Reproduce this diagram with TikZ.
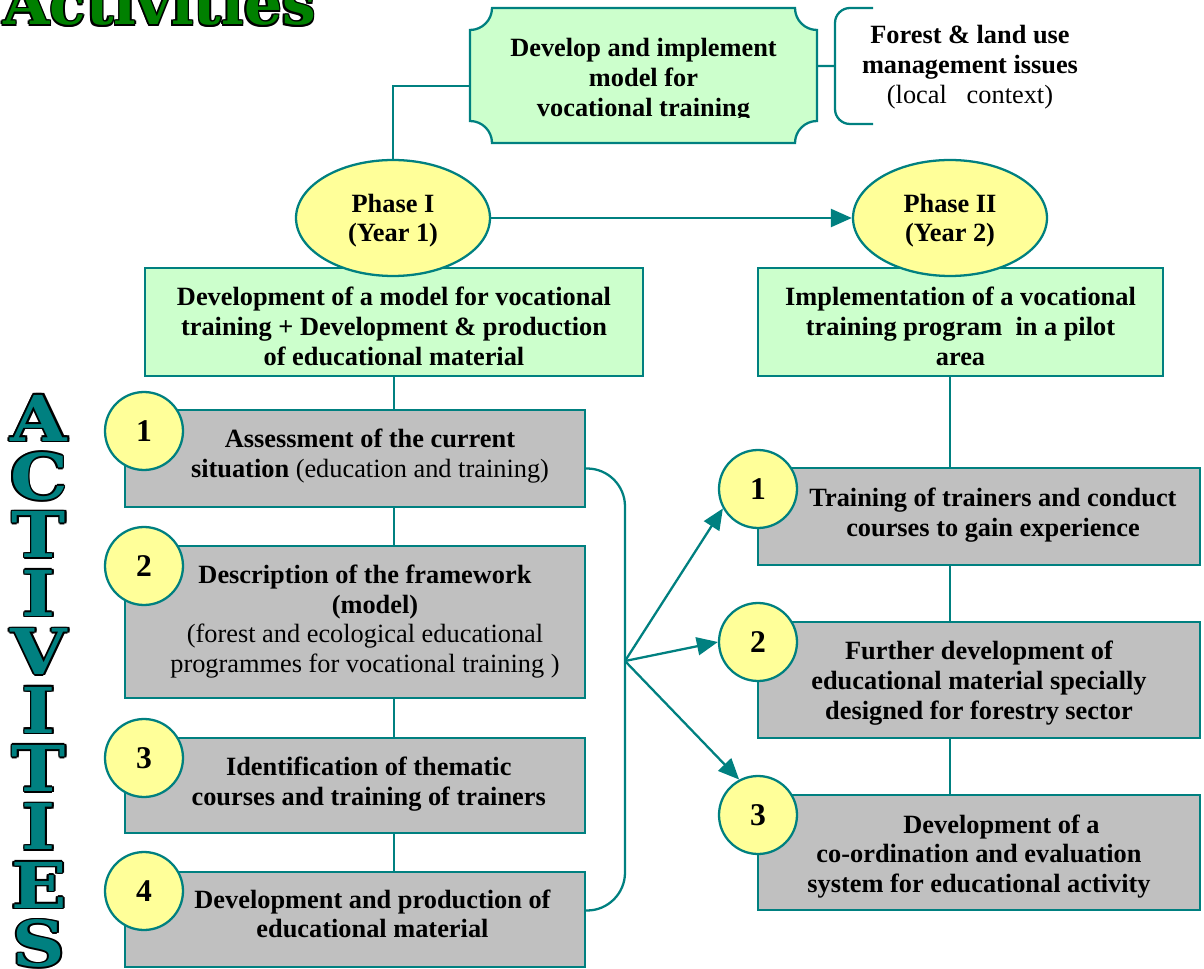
\documentclass[tikz,border=0pt]{standalone}
\usepackage{fontspec}
\setmainfont{Liberation Serif}
\newfontfamily\blockfont{DejaVu Serif}
\usetikzlibrary{shapes.geometric,arrows.meta}

\definecolor{linkteal}{RGB}{0,128,128}
\definecolor{mint}{RGB}{204,255,204}
\definecolor{paleyellow}{RGB}{255,255,153}
\definecolor{boxgray}{RGB}{192,192,192}
\definecolor{titlegreen}{RGB}{0,128,0}

\newcommand{\txt}{\fontsize{15}{17}\selectfont}
% letters with a black rim
\newcommand{\ringed}[2]{%
  \leavevmode
  \rlap{\hspace*{-0.9pt}\textcolor{black}{#2}}%
  \rlap{\hspace*{0.9pt}\textcolor{black}{#2}}%
  \rlap{\raisebox{0.9pt}{\textcolor{black}{#2}}}%
  \rlap{\raisebox{-0.9pt}{\textcolor{black}{#2}}}%
  \rlap{\hspace*{-0.65pt}\raisebox{0.65pt}{\textcolor{black}{#2}}}%
  \rlap{\hspace*{0.65pt}\raisebox{0.65pt}{\textcolor{black}{#2}}}%
  \rlap{\hspace*{-0.65pt}\raisebox{-0.65pt}{\textcolor{black}{#2}}}%
  \rlap{\hspace*{0.65pt}\raisebox{-0.65pt}{\textcolor{black}{#2}}}%
  \textcolor{#1}{#2}}
% text block pushed right by half of #1 and raised by #2
\newcommand{\offtext}[3]{\hspace*{#1}\raisebox{#2}[\height][\depth]{\begin{tabular}{@{}c@{}}#3\end{tabular}}}

\begin{document}
\begin{tikzpicture}[x=0.02cm, y=-0.02cm,
  link/.style={draw=linkteal, line width=1.3pt},
  arr/.style={link, -{Triangle[length=0.42cm,width=0.36cm]}},
  greenbox/.style={rectangle, draw=linkteal, line width=1.3pt, fill=mint,
    align=center, inner sep=0pt, font=\txt\bfseries},
  graybox/.style={greenbox, fill=boxgray},
  phase/.style={ellipse, draw=linkteal, line width=1.3pt, fill=paleyellow,
    minimum width=3.88cm, minimum height=2.32cm, align=center, inner sep=0pt,
    font=\txt\bfseries},
  num/.style={circle, draw=linkteal, line width=1.3pt, fill=paleyellow,
    minimum size=1.56cm, inner sep=0pt, font=\fontsize{18}{18}\selectfont\bfseries},
  vletter/.style={inner sep=0pt, font=\blockfont\bfseries\fontsize{36}{36}\selectfont}]

  \useasboundingbox (0,0) rectangle (1204,969);

  % title, cut by the page edge
  \node[anchor=base west, inner sep=0pt,
    font=\blockfont\bfseries\fontsize{34}{34}\selectfont] (title) at (3,25)
    {\ringed{titlegreen}{Activities}};

  % vertical word
  \foreach \l [count=\i from 0] in {A,C,T,I,V,I,T,I,E,S}
    \node[vletter] (letter\i) at (39,{418+58.4*\i}) {\scalebox{1.15}[1]{\ringed{linkteal}{\l}}};

  % top plaque
  \draw[link, fill=mint] (492,8) -- (795,8) arc[start angle=180,end angle=270,radius=0.44cm]
    -- (817,121) arc[start angle=90,end angle=180,radius=0.44cm]
    -- (492,143) arc[start angle=0,end angle=90,radius=0.44cm]
    -- (470,30) arc[start angle=270,end angle=360,radius=0.44cm] -- cycle;
  \begin{scope}
    \clip (470,8) rectangle (817,118);
    \node[align=center, font=\txt\bfseries, minimum width=6.94cm, minimum height=2.7cm,
      inner sep=0pt] (model) at (643.5,80) {Develop and implement\\model for\\vocational training};
  \end{scope}

  % brace and local context
  \coordinate (brace) at (835,66);
  \draw[link, rounded corners=0.3cm] (873,8) -- (835,8) -- (835,124) -- (873,124);
  \draw[link] ([yshift=0.28cm]model.east) -- (brace);
  \node[align=center, font=\txt] (issues) at (970,67)
    {\textbf{Forest \& land use}\\\textbf{management issues}\\(local\ \ \ context)};

  % phase boxes
  \node[greenbox, minimum width=9.96cm, minimum height=2.16cm] (dev) at (394,322)
    {\offtext{0pt}{-4.3pt}{Development of a model for vocational\\training + Development \& production\\of educational material}};
  \node[greenbox, minimum width=8.1cm, minimum height=2.16cm] (impl) at (960.5,322)
    {\offtext{0pt}{-4.3pt}{Implementation of a vocational\\training program\ \ in a pilot\\area}};

  % phases
  \node[phase] (ph1) at (393,218) {\offtext{0pt}{-1.7pt}{Phase I\\(Year 1)}};
  \node[phase] (ph2) at (950,218) {\offtext{0pt}{-1.7pt}{Phase II\\(Year 2)}};
  \draw[link] (ph1.north) |- ([yshift=-0.12cm]model.west);
  \draw[arr] (ph1.east) -- (ph2.west);

  % phase I activities
  \node[graybox, minimum width=9.2cm, minimum height=1.94cm] (a1) at (355,458.5)
    {\offtext{0.6cm}{1.1pt}{Assessment of the current\\situation {\mdseries(education and training)}}};
  \node[graybox, minimum width=9.2cm, minimum height=3.04cm] (a2) at (355,622)
    {\offtext{0.4cm}{0pt}{Description of the framework\\\hspace*{0.4cm}(model)\\{\mdseries(forest and ecological educational}\\{\mdseries programmes for vocational training )}}};
  \node[graybox, minimum width=9.2cm, minimum height=1.9cm] (a3) at (355,785.5)
    {\offtext{0.55cm}{0.5pt}{Identification of thematic\\courses and training of trainers}};
  \node[graybox, minimum width=9.2cm, minimum height=1.9cm] (a4) at (355,919.5)
    {\offtext{0.7cm}{1.4pt}{Development and production of\\educational material}};
  \draw[link] (dev.south) -- (dev.south |- a1.north);
  \foreach \u/\d in {a1/a2,a2/a3,a3/a4}
    \draw[link] (dev.south |- \u.south) -- (dev.south |- \d.north);

  % phase II activities
  \node[graybox, minimum width=8.84cm, minimum height=1.94cm] (b1) at (979,516.5)
    {\offtext{0.56cm}{0.5pt}{Training of trainers and conduct\\courses to gain experience}};
  \node[graybox, minimum width=8.84cm, minimum height=2.32cm] (b2) at (979,680)
    {\offtext{0pt}{-2pt}{Further development of\\educational material specially\\designed for forestry sector}};
  \node[graybox, minimum width=8.84cm, minimum height=2.3cm] (b3) at (979,852.5)
    {\offtext{0pt}{-2.5pt}{\hspace*{0.9cm}Development of a\\co-ordination and evaluation\\system for educational activity}};
  \draw[link] (ph2.south |- impl.south) -- (ph2.south |- b1.north);
  \foreach \u/\d in {b1/b2,b2/b3}
    \draw[link] (ph2.south |- \u.south) -- (ph2.south |- \d.north);

  % numbers
  \node[num] (n1) at (144,431) {1};
  \node[num] (n2) at (144,566) {2};
  \node[num] (n3) at (144,758) {3};
  \node[num] (n4) at (144,891) {4};
  \node[num] (m1) at (758,489) {1};
  \node[num] (m2) at (758,642) {2};
  \node[num] (m3) at (758,815) {3};

  % bracket and arrows to phase II
  \coordinate (hub) at (625,661);
  \draw[link, rounded corners=0.76cm] ([yshift=-0.2cm]a1.east) -| (hub) |- ([yshift=0.18cm]a4.east);
  \draw[arr] (hub) -- (m1.209);
  \draw[arr] (hub) -- (m2.west);
  \draw[arr] (hub) -- (m3.118);
\end{tikzpicture}
\end{document}
